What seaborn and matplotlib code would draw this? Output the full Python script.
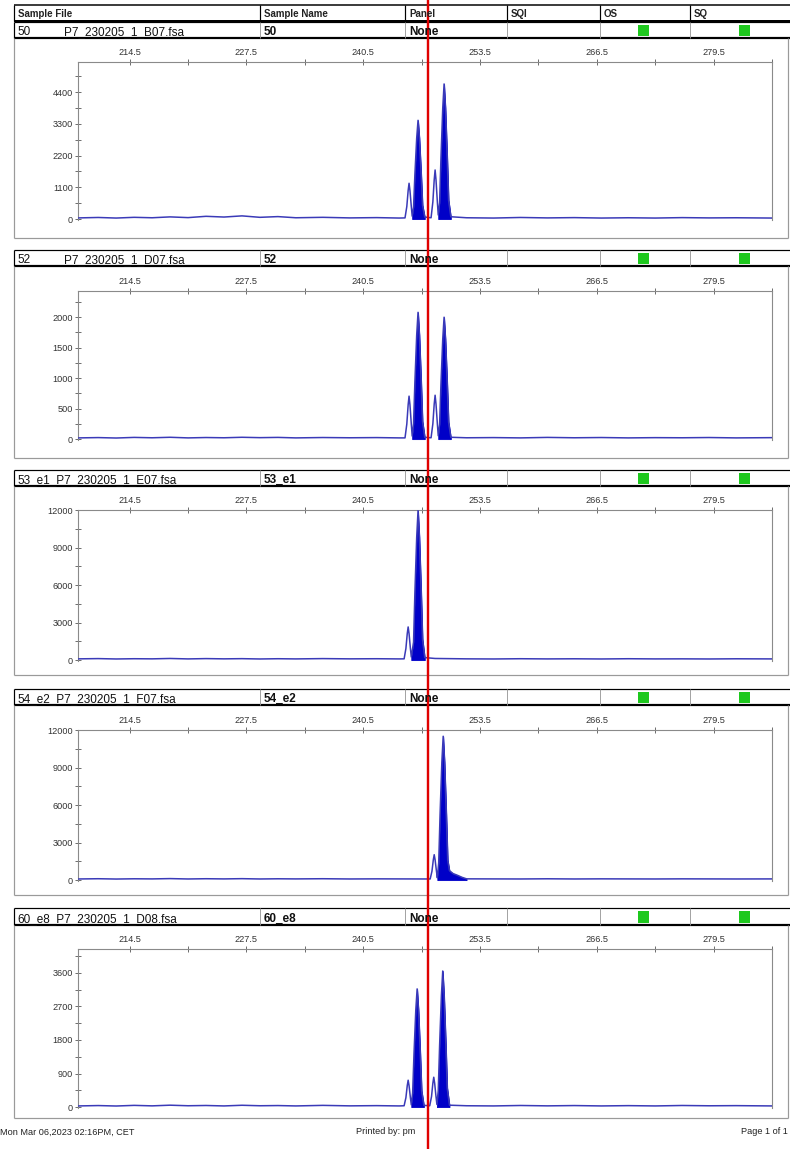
import numpy as np
import pandas as pd
import matplotlib
matplotlib.use("Agg")
import matplotlib.pyplot as plt
from matplotlib.ticker import FixedLocator
from matplotlib.patches import Rectangle
import seaborn as sns

# ---------------------------------------------------------------- data
header_labels = ["Sample File", "Sample Name", "Panel", "SQI", "OS", "SQ"]
sample_prefix = ["50", "52", "", "", ""]
sample_files = ["P7_230205_1_B07.fsa", "P7_230205_1_D07.fsa",
                "53_e1_P7_230205_1_E07.fsa", "54_e2_P7_230205_1_F07.fsa",
                "60_e8_P7_230205_1_D08.fsa"]
sample_names = ["50", "52", "53_e1", "54_e2", "60_e8"]
panel_names = ["None", "None", "None", "None", "None"]

size_major = [214.5, 227.5, 240.5, 253.5, 266.5, 279.5]
size_minor = [221.0, 234.0, 247.0, 260.0, 273.0, 286.0]

p1_yticks = [0, 1100, 2200, 3300, 4400]
p2_yticks = [0, 500, 1000, 1500, 2000]
p3_yticks = [0, 3000, 6000, 9000, 12000]
p4_yticks = [0, 3000, 6000, 9000, 12000]
p5_yticks = [0, 900, 1800, 2700, 3600]
y_tops = [5440, 2430, 12000, 12000, 4240]

# baseline sizes shared by the traces left and right of the peaks
left_bp = [208.8, 211.0, 213.0, 215.0, 217.0, 219.0, 221.0, 223.0, 225.0, 227.0,
           229.0, 231.0, 233.0, 236.0, 239.0, 242.0, 244.5]
right_bp = [252.0, 255.0, 258.0, 261.0, 264.0, 267.0, 270.0, 273.0, 276.0, 279.0,
            282.0, 286.0]

# sample 50
p1_bp = left_bp + [
    245.15, 245.35, 245.5, 245.6, 245.7, 245.85, 245.95,
    246.1, 246.25, 246.45, 246.6, 246.75, 246.95, 247.1, 247.35,
    248.05, 248.25, 248.4, 248.5, 248.6, 248.75, 248.85,
    249.0, 249.15, 249.35, 249.5, 249.65, 249.85, 250.0, 250.25] + right_bp
p1_rfu = [40, 55, 35, 60, 45, 75, 50, 95, 70, 110, 60, 85, 45, 60, 40, 50, 35,
          40, 434, 990, 1240, 990, 434, 100,
          410, 1540, 2800, 3420, 2800, 1540, 480, 70,
          45, 595, 1360, 1700, 1360, 595, 140,
          560, 2100, 3840, 4680, 3840, 2100, 655, 80,
          45, 35, 55, 40, 50, 35, 45, 35, 50, 40, 45, 35]
p1_called = [(245.95, 247.35), (248.85, 250.25)]

# sample 52
p2_bp = p1_bp
p2_rfu = [20, 25, 18, 28, 22, 30, 20, 26, 22, 30, 24, 28, 20, 26, 22, 25, 20,
          20, 247, 564, 705, 564, 247, 50,
          250, 935, 1705, 2080, 1705, 935, 290, 30,
          22, 252, 576, 720, 576, 252, 55,
          240, 900, 1640, 2000, 1640, 900, 280, 30,
          22, 25, 20, 28, 22, 26, 20, 24, 22, 26, 20, 24]
p2_called = [(245.95, 247.35), (248.85, 250.25)]

# sample 53_e1
p3_bp = left_bp + [
    245.05, 245.25, 245.4, 245.5, 245.6, 245.75, 245.85,
    246.1, 246.25, 246.45, 246.6, 246.75, 246.95, 247.1, 247.35,
    248.5] + right_bp
p3_rfu = [100, 120, 90, 110, 100, 130, 95, 120, 100, 115, 90, 110, 95, 120, 100, 110, 95,
          100, 930, 2120, 2650, 2120, 930, 250,
          1430, 5380, 9800, 11950, 9800, 5380, 1670, 200,
          130,
          100, 90, 110, 95, 105, 90, 110, 95, 100, 90, 105, 95]
p3_called = [(245.85, 247.35)]

# sample 54_e2
p4_bp = left_bp + [
    247.5,
    247.95, 248.15, 248.3, 248.4, 248.5, 248.65, 248.75,
    248.9, 249.05, 249.25, 249.4, 249.55, 249.75, 249.9,
    250.1, 250.5, 251.0, 251.5, 252.0,
    255.0, 258.0, 261.0, 264.0, 267.0, 270.0, 273.0, 276.0, 279.0, 282.0, 286.0]
p4_rfu = [90, 110, 85, 105, 95, 120, 90, 110, 95, 115, 90, 105, 95, 110, 90, 100, 95,
          90,
          90, 710, 1620, 2030, 1620, 710, 180,
          1380, 5180, 9430, 11500, 9430, 5180, 1610,
          750, 520, 380, 220, 100,
          95, 90, 105, 90, 100, 95, 90, 100, 95, 90, 95]
p4_called = [(248.75, 252.0)]

# sample 60_e8
p5_bp = left_bp + [
    245.05, 245.25, 245.4, 245.5, 245.6, 245.75, 245.85,
    246.0, 246.15, 246.35, 246.5, 246.65, 246.85, 247.0, 247.25,
    247.9, 248.1, 248.25, 248.35, 248.45, 248.6, 248.7,
    248.85, 249.0, 249.2, 249.35, 249.5, 249.7, 249.85, 250.1] + right_bp
p5_rfu = [30, 40, 28, 45, 32, 50, 35, 42, 30, 48, 35, 40, 30, 45, 32, 38, 30,
          35, 252, 576, 720, 576, 252, 60,
          380, 1430, 2600, 3170, 2600, 1430, 440, 45,
          35, 280, 640, 800, 640, 280, 70,
          440, 1640, 2990, 3650, 2990, 1640, 510, 50,
          35, 30, 42, 32, 40, 30, 38, 30, 42, 34, 38, 30]
p5_called = [(245.85, 247.25), (248.7, 250.1)]

footer_left = "Mon Mar 06,2023 02:16PM, CET"
footer_mid = "Printed by: pm"
footer_right = "Page 1 of 1"

traces = [(p1_bp, p1_rfu, p1_called, p1_yticks),
          (p2_bp, p2_rfu, p2_called, p2_yticks),
          (p3_bp, p3_rfu, p3_called, p3_yticks),
          (p4_bp, p4_rfu, p4_called, p4_yticks),
          (p5_bp, p5_rfu, p5_called, p5_yticks)]

# ---------------------------------------------------------------- layout (pixels)
W, H = 790, 1149
rows = [(22, 38), (250, 266), (470, 486), (689, 705), (908, 925)]
plot_boxes = [(62, 220), (291, 440), (510, 661), (730, 881), (949, 1108)]
frame_bottoms = [238, 458, 675, 895, 1118]
X_LEFT, X_RIGHT = 78, 772
FR_L, FR_R = 14, 788
col_x = [260, 405, 507, 600, 690]

sns.set_theme(style="white")
plt.rcParams["font.family"] = ["Liberation Sans", "DejaVu Sans"]

fig = plt.figure(figsize=(W / 100, H / 100), dpi=100)
fig.patch.set_facecolor("white")


def px_rect(x0, y0, x1, y1):
    return [x0 / W, 1 - y1 / H, (x1 - x0) / W, (y1 - y0) / H]


line_col = "#3a3ab8"
fill_col = "#0000c8"
tick_col = "#555555"

for i, (bp, rfu, called, yticks) in enumerate(traces):
    top, bot = plot_boxes[i]
    ax = fig.add_axes(px_rect(X_LEFT, top, X_RIGHT, bot))
    df = pd.DataFrame({"size": bp, "rfu": rfu})
    bp_arr = df["size"].to_numpy()
    rfu_arr = df["rfu"].to_numpy()
    for lo, hi in called:
        m = (bp_arr >= lo - 1e-9) & (bp_arr <= hi + 1e-9)
        ax.fill_between(bp_arr[m], rfu_arr[m], 0, color=fill_col, lw=0.6,
                        edgecolor=fill_col, zorder=2)
    sns.lineplot(data=df, x="size", y="rfu", ax=ax, color=line_col, lw=1.1,
                 sort=False, estimator=None, zorder=3)
    ytop = y_tops[i]
    ax.set_xlim(208.75, 286.0)
    ax.set_ylim(-0.006 * ytop, ytop)
    ax.set_xlabel("")
    ax.set_ylabel("")
    ax.xaxis.set_major_locator(FixedLocator(size_major))
    ax.xaxis.set_minor_locator(FixedLocator(size_minor))
    ax.set_xticklabels([f"{v:.1f}" for v in size_major])
    ystep = yticks[1] - yticks[0]
    ax.yaxis.set_major_locator(FixedLocator(yticks))
    ax.yaxis.set_minor_locator(FixedLocator([v + ystep / 2 for v in yticks]))
    ax.set_yticklabels([str(v) for v in yticks])
    ax.tick_params(axis="x", which="both", top=True, bottom=False, labeltop=True,
                   labelbottom=False, direction="inout", length=4, width=0.6,
                   color=tick_col, labelsize=6.6, labelcolor="#333333", pad=1.5)
    ax.tick_params(axis="y", which="both", left=True, direction="inout", length=4,
                   width=0.6, color=tick_col, labelsize=6.6, labelcolor="#333333", pad=1.5)
    for s in ["top", "left", "right"]:
        ax.spines[s].set_color("#8a8a8a")
        ax.spines[s].set_linewidth(0.8)
    ax.spines["bottom"].set_visible(False)
    ax.set_facecolor("white")
    ax.grid(False)

# ---------------------------------------------------------------- page overlay
ov = fig.add_axes([0, 0, 1, 1], zorder=10)
ov.set_xlim(0, W)
ov.set_ylim(H, 0)
ov.axis("off")
ov.patch.set_alpha(0)

PX = 0.72  # one pixel in points

# header row
ov.hlines(5, FR_L, W, color="black", lw=1.5 * PX)
ov.hlines(21, FR_L, W, color="black", lw=2 * PX)
ov.vlines([FR_L] + col_x, 5, 21, color="black", lw=1.2 * PX)
for x, lab in zip([FR_L] + col_x, header_labels):
    ov.text(x + 4, 14, lab, fontsize=7.0, fontweight="bold", color="#222222",
            va="center", ha="left")

for i in range(5):
    rt, rb = rows[i]
    fb = frame_bottoms[i]
    # sample row box
    ov.hlines(rt, FR_L, W, color="black", lw=1.2 * PX)
    ov.hlines(rb, FR_L, W, color="black", lw=2.2 * PX)
    ov.vlines(FR_L, rt, rb, color="black", lw=1.2 * PX)
    ov.vlines(col_x, rt, rb, color="#9a9a9a", lw=0.9 * PX)
    ty = rb - 6
    if sample_prefix[i]:
        ov.text(17, ty, sample_prefix[i], fontsize=8.5, color="#111111", va="center")
        ov.text(64, ty, sample_files[i], fontsize=8.5, color="#111111", va="center")
    else:
        ov.text(17, ty, sample_files[i], fontsize=8.5, color="#111111", va="center")
    ov.text(264, ty, sample_names[i], fontsize=8.5, fontweight="bold", color="#111111",
            va="center")
    ov.text(409, ty, panel_names[i], fontsize=8.5, fontweight="bold", color="#111111",
            va="center")
    # quality flags
    for gx in (638, 739):
        ov.add_patch(Rectangle((gx, rt + 3), 11, rb - rt - 5, facecolor="#1ec81e",
                               edgecolor="none"))
    # panel frame
    ov.vlines([FR_L, FR_R], rb, fb, color="#9a9a9a", lw=1.2 * PX)
    ov.hlines(fb, FR_L, FR_R, color="#9a9a9a", lw=1.2 * PX)

# footer
ov.text(0, 1132, footer_left, fontsize=6.6, color="#222222", va="center", ha="left")
ov.text(356, 1132, footer_mid, fontsize=6.6, color="#222222", va="center", ha="left")
ov.text(788, 1132, footer_right, fontsize=6.6, color="#222222", va="center", ha="right")

# vertical marker line across the page
ov.vlines(428, 0, H, color="#e00000", lw=2.4 * PX)

fig.savefig("out.png", dpi=100, facecolor="white")
